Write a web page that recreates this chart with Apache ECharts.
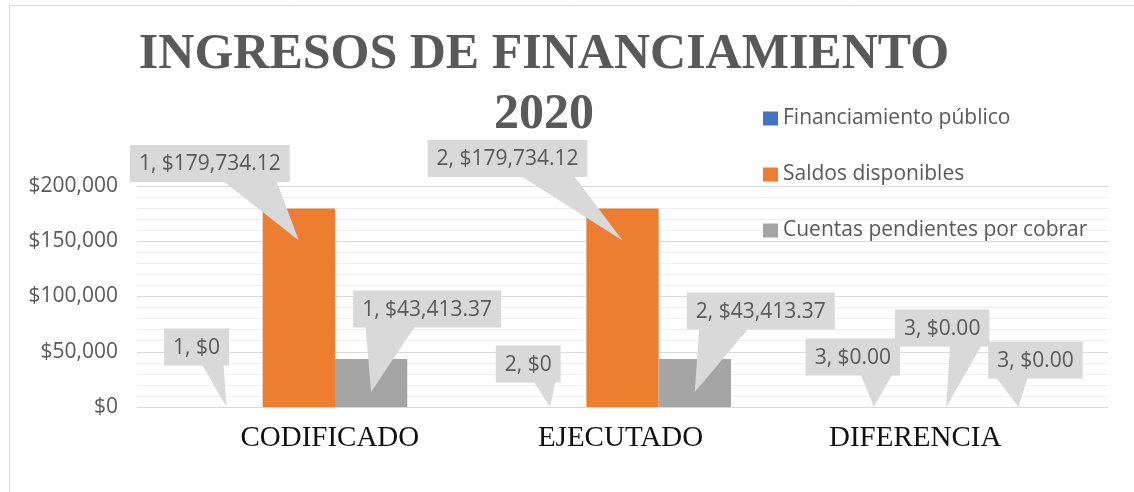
<!DOCTYPE html>
<html>
<head>
<meta charset="utf-8">
<title>Ingresos de financiamiento 2020</title>
<script src="https://cdn.jsdelivr.net/npm/echarts@6/dist/echarts.min.js"></script>
<style>
	html, body { margin: 0; padding: 0; background: #fff; }
	#chart { width: 1134px; height: 492px; }
</style>
</head>
<body>
<div id="chart"></div>
<script>
	// datos
	var categories = ['CODIFICADO', 'EJECUTADO', 'DIFERENCIA'];
	var seriesNames = ['Financiamiento público', 'Saldos disponibles', 'Cuentas pendientes por cobrar'];
	var financiamientoPublico = [0, 0, 0];
	var saldosDisponibles = [179734.12, 179734.12, 0];
	var cuentasPendientes = [43413.37, 43413.37, 0];
	var yTicks = [0, 50000, 100000, 150000, 200000];
	// decimales de cada etiqueta (como en la hoja)
	var labelDecimals = [[0, 0, 2], [2, 2, 2], [2, 2, 2]];

	// posicion de los globos (px, relativo a la barra)
	var calloutTipDy = [[0, 0, 0], [32, 32, 0], [33, 33, 0]];
	var calloutOffset = [
		[[-30, -60], [-22, -43], [-21, -50]],
		[[-89, -77], [-115, -82], [-4, -79]],
		[[56, -83], [66, -81], [17, -47]]
	];
	var categoryShift = [31, -2, -31];

	var colors = ['#4472C4', '#ED7D31', '#A5A5A5'];
	var values = [financiamientoPublico, saldosDisponibles, cuentasPendientes];
	var gapRatio = 0.33;
	var labelFont = '21px "Open Sans"';

	var measureCtx = document.createElement('canvas').getContext('2d');
	measureCtx.font = labelFont;

	function money(v, d) {
		return '$' + v.toLocaleString('en-US', {minimumFractionDigits: d, maximumFractionDigits: d});
	}

	// globo tipo Excel (wedgeRectCallout)
	function calloutRenderer(s) {
		return function (params, api) {
			var c = api.value(0), v = api.value(1);
			var p = api.coord([c, v]);
			var band = api.size([1, 0])[0];
			var bw = band * (1 - gapRatio) / 3;
			var tipX = p[0] + (s - 1) * bw;
			var tipY = p[1] + calloutTipDy[s][c];
			var off = calloutOffset[s][c];
			var cx = tipX + off[0], cy = tipY + off[1];
			var text = (c + 1) + ', ' + money(v, labelDecimals[s][c]);
			var w = measureCtx.measureText(text).width + 18, h = 37;
			var left = cx - w / 2, bottom = cy + h / 2;
			var b1, b2;
			if (tipX >= cx) {
				b1 = left + w * 7 / 12; b2 = left + w * 11 / 12;
			} else {
				b1 = left + w / 12; b2 = left + w * 5 / 12;
			}
			return {
				type: 'group',
				children: [
					{type: 'polygon', shape: {points: [[b1, bottom - 1], [b2, bottom - 1], [tipX, tipY]]}, style: {fill: '#d9d9d9'}},
					{type: 'rect', shape: {x: left, y: cy - h / 2, width: w, height: h}, style: {fill: '#d9d9d9'}},
					{type: 'text', style: {
						text: text, x: cx, y: cy + 1, fill: '#595959', font: labelFont,
						align: 'center', textAlign: 'center', verticalAlign: 'middle', textVerticalAlign: 'middle'
					}}
				]
			};
		};
	}

	var chart = echarts.init(document.getElementById('chart'));

	var series = [];
	for (var i = 0; i < 3; i++) {
		series.push({
			name: seriesNames[i],
			type: 'bar',
			data: values[i],
			barGap: '0%',
			barCategoryGap: (gapRatio * 100) + '%',
			itemStyle: {color: colors[i]}
		});
	}
	for (var j = 0; j < 3; j++) {
		series.push({
			type: 'custom',
			z: 5,
			silent: true,
			data: values[j].map(function (v, k) { return [k, v]; }),
			renderItem: calloutRenderer(j)
		});
	}

	var rich = {};
	categoryShift.forEach(function (sh, k) {
		rich['c' + k] = {
			fontFamily: 'Liberation Serif', fontSize: 29, color: '#111',
			padding: sh > 0 ? [0, 0, 0, sh * 2] : [0, -sh * 2, 0, 0]
		};
	});

	var option = {
		animation: false,
		color: colors,
		graphic: [{
			type: 'rect', silent: true, z: -1,
			shape: {x: 9.5, y: 5.5, width: 1400, height: 800},
			style: {fill: 'none', stroke: '#d9d9d9', lineWidth: 1}
		}],
		title: {
			text: 'INGRESOS DE FINANCIAMIENTO\n2020',
			left: 539,
			textAlign: 'center',
			top: 20,
			textStyle: {
				fontFamily: 'Liberation Serif',
				fontWeight: 'bold',
				fontSize: 50,
				lineHeight: 60,
				color: '#595959'
			}
		},
		legend: {
			data: seriesNames,
			orient: 'vertical',
			left: 758,
			top: 103,
			itemWidth: 15,
			itemHeight: 14,
			itemGap: 35,
			icon: 'rect',
			textStyle: {fontFamily: 'Open Sans', fontSize: 21, color: '#595959', lineHeight: 21}
		},
		grid: {left: 137, right: 26, top: 186, bottom: 85},
		xAxis: {
			type: 'category',
			data: categories,
			axisTick: {show: false},
			axisLine: {lineStyle: {color: '#d9d9d9'}},
			axisLabel: {
				margin: 17,
				formatter: function (val, idx) { return '{c' + idx + '|' + val + '}'; },
				rich: rich
			}
		},
		yAxis: {
			type: 'value',
			min: yTicks[0],
			max: yTicks[yTicks.length - 1],
			interval: yTicks[1] - yTicks[0],
			axisLabel: {
				margin: 19,
				fontFamily: 'Open Sans',
				fontSize: 21,
				color: '#595959',
				formatter: function (v) { return money(v, 0); }
			},
			splitLine: {lineStyle: {color: '#d9d9d9'}},
			minorTick: {show: false, splitNumber: 5},
			minorSplitLine: {show: true, lineStyle: {color: '#efefef'}}
		},
		series: series
	};

	chart.setOption(option);
</script>
</body>
</html>
